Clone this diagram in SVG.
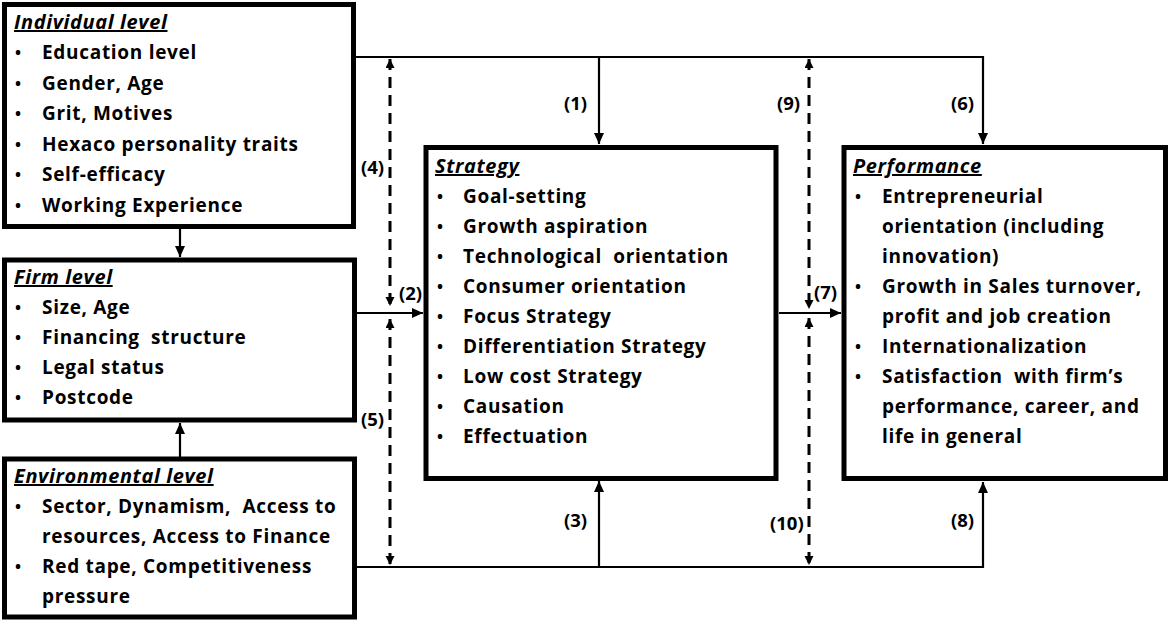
<svg xmlns="http://www.w3.org/2000/svg" width="1169" height="621" viewBox="0 0 1169 621">
<style>
.box{fill:#fff;stroke:#000;stroke-width:5}
text{font-family:"Open Sans","Noto Sans","Liberation Sans",sans-serif;font-weight:bold;fill:#000;white-space:pre}
.t{font-size:19px;letter-spacing:0.7px}
.b{font-size:16px;letter-spacing:0}
.h{font-size:20px;letter-spacing:0.6px;font-style:italic;text-decoration:underline}
.lbl{font-size:18.5px}
.c{fill:none;stroke:#000;stroke-width:2.2}
.d{fill:none;stroke:#000;stroke-width:3;stroke-dasharray:11 7}
</style>
<defs>
<marker id="ah" markerUnits="userSpaceOnUse" markerWidth="12" markerHeight="10" refX="11" refY="5" orient="auto"><path d="M0,0 L11,5 L0,10 z" fill="#000"/></marker>
<marker id="ad" markerUnits="userSpaceOnUse" markerWidth="10" markerHeight="10" refX="9" refY="4.5" orient="auto-start-reverse"><path d="M0,0 L9,4.5 L0,9 z" fill="#000"/></marker>
</defs>
<g id="connectors">
<path class="c" d="M354,57 H983 V144" marker-end="url(#ah)"/>
<path class="c" d="M599,57 V144" marker-end="url(#ah)"/>
<path class="c" d="M355,567 H983 V482" marker-end="url(#ah)"/>
<path class="c" d="M599,567 V481" marker-end="url(#ah)"/>
<path class="c" d="M180,228 V257" marker-end="url(#ah)"/>
<path class="c" d="M180,457 V423" marker-end="url(#ah)"/>
<path class="c" d="M357,313 H423" marker-end="url(#ah)"/>
<path class="c" d="M779,313 H841" marker-end="url(#ah)"/>
<path class="d" d="M390,59 V306" marker-start="url(#ad)" marker-end="url(#ad)"/>
<path class="d" d="M390,319 V565" marker-start="url(#ad)" marker-end="url(#ad)"/>
<path class="d" d="M809,59 V309" marker-start="url(#ad)" marker-end="url(#ad)"/>
<path class="d" d="M809,318 V565" marker-start="url(#ad)" marker-end="url(#ad)"/>
<text class="lbl" x="564" y="110">(1)</text>
<text class="lbl" x="399" y="300">(2)</text>
<text class="lbl" x="564" y="527">(3)</text>
<text class="lbl" x="361" y="174">(4)</text>
<text class="lbl" x="361" y="426">(5)</text>
<text class="lbl" x="951" y="110">(6)</text>
<text class="lbl" x="814" y="299">(7)</text>
<text class="lbl" x="951" y="527">(8)</text>
<text class="lbl" x="777" y="110">(9)</text>
<text class="lbl" x="770" y="530">(10)</text>
</g>
<g id="individual">
<rect class="box" x="4.5" y="4.5" width="349" height="222"/>
<text class="h" x="14" y="29">Individual level</text>
<g class="t">
<text class="b" x="15" y="58">•</text><text x="42" y="59">Education level</text>
<text class="b" x="15" y="88.5">•</text><text x="42" y="89.5">Gender, Age</text>
<text class="b" x="15" y="119">•</text><text x="42" y="120">Grit, Motives</text>
<text class="b" x="15" y="149.5">•</text><text x="42" y="150.5">Hexaco personality traits</text>
<text class="b" x="15" y="180">•</text><text x="42" y="181">Self-efficacy</text>
<text class="b" x="15" y="210.5">•</text><text x="42" y="211.5">Working Experience</text>
</g>
</g>
<g id="firm">
<rect class="box" x="4.5" y="260" width="350" height="160"/>
<text class="h" x="14" y="284">Firm level</text>
<g class="t">
<text class="b" x="15" y="313">•</text><text x="42" y="314">Size, Age</text>
<text class="b" x="15" y="343">•</text><text x="42" y="344">Financing  structure</text>
<text class="b" x="15" y="373">•</text><text x="42" y="374">Legal status</text>
<text class="b" x="15" y="403">•</text><text x="42" y="404">Postcode</text>
</g>
</g>
<g id="environmental">
<rect class="box" x="4.5" y="459" width="350" height="158"/>
<text class="h" x="14" y="483">Environmental level</text>
<g class="t">
<text class="b" x="15" y="512">•</text><text x="42" y="513">Sector, Dynamism,  Access to</text>
<text x="42" y="543">resources, Access to Finance</text>
<text class="b" x="15" y="572">•</text><text x="42" y="573">Red tape, Competitiveness</text>
<text x="42" y="603">pressure</text>
</g>
</g>
<g id="strategy">
<rect class="box" x="426" y="147.5" width="350" height="331"/>
<text class="h" x="435" y="173">Strategy</text>
<g class="t">
<text class="b" x="437" y="202">•</text><text x="463" y="203">Goal-setting</text>
<text class="b" x="437" y="232">•</text><text x="463" y="233">Growth aspiration</text>
<text class="b" x="437" y="262">•</text><text x="463" y="263">Technological  orientation</text>
<text class="b" x="437" y="292">•</text><text x="463" y="293">Consumer orientation</text>
<text class="b" x="437" y="322">•</text><text x="463" y="323">Focus Strategy</text>
<text class="b" x="437" y="352">•</text><text x="463" y="353">Differentiation Strategy</text>
<text class="b" x="437" y="382">•</text><text x="463" y="383">Low cost Strategy</text>
<text class="b" x="437" y="412">•</text><text x="463" y="413">Causation</text>
<text class="b" x="437" y="442">•</text><text x="463" y="443">Effectuation</text>
</g>
</g>
<g id="performance">
<rect class="box" x="844" y="147.5" width="321.5" height="331"/>
<text class="h" x="853" y="173">Performance</text>
<g class="t">
<text class="b" x="855" y="202">•</text><text x="882" y="203">Entrepreneurial</text>
<text x="882" y="233">orientation (including</text>
<text x="882" y="263">innovation)</text>
<text class="b" x="855" y="292">•</text><text x="882" y="293">Growth in Sales turnover,</text>
<text x="882" y="323">profit and job creation</text>
<text class="b" x="855" y="352">•</text><text x="882" y="353">Internationalization</text>
<text class="b" x="855" y="382">•</text><text x="882" y="383">Satisfaction  with firm’s</text>
<text x="882" y="413">performance, career, and</text>
<text x="882" y="443">life in general</text>
</g>
</g>
</svg>
